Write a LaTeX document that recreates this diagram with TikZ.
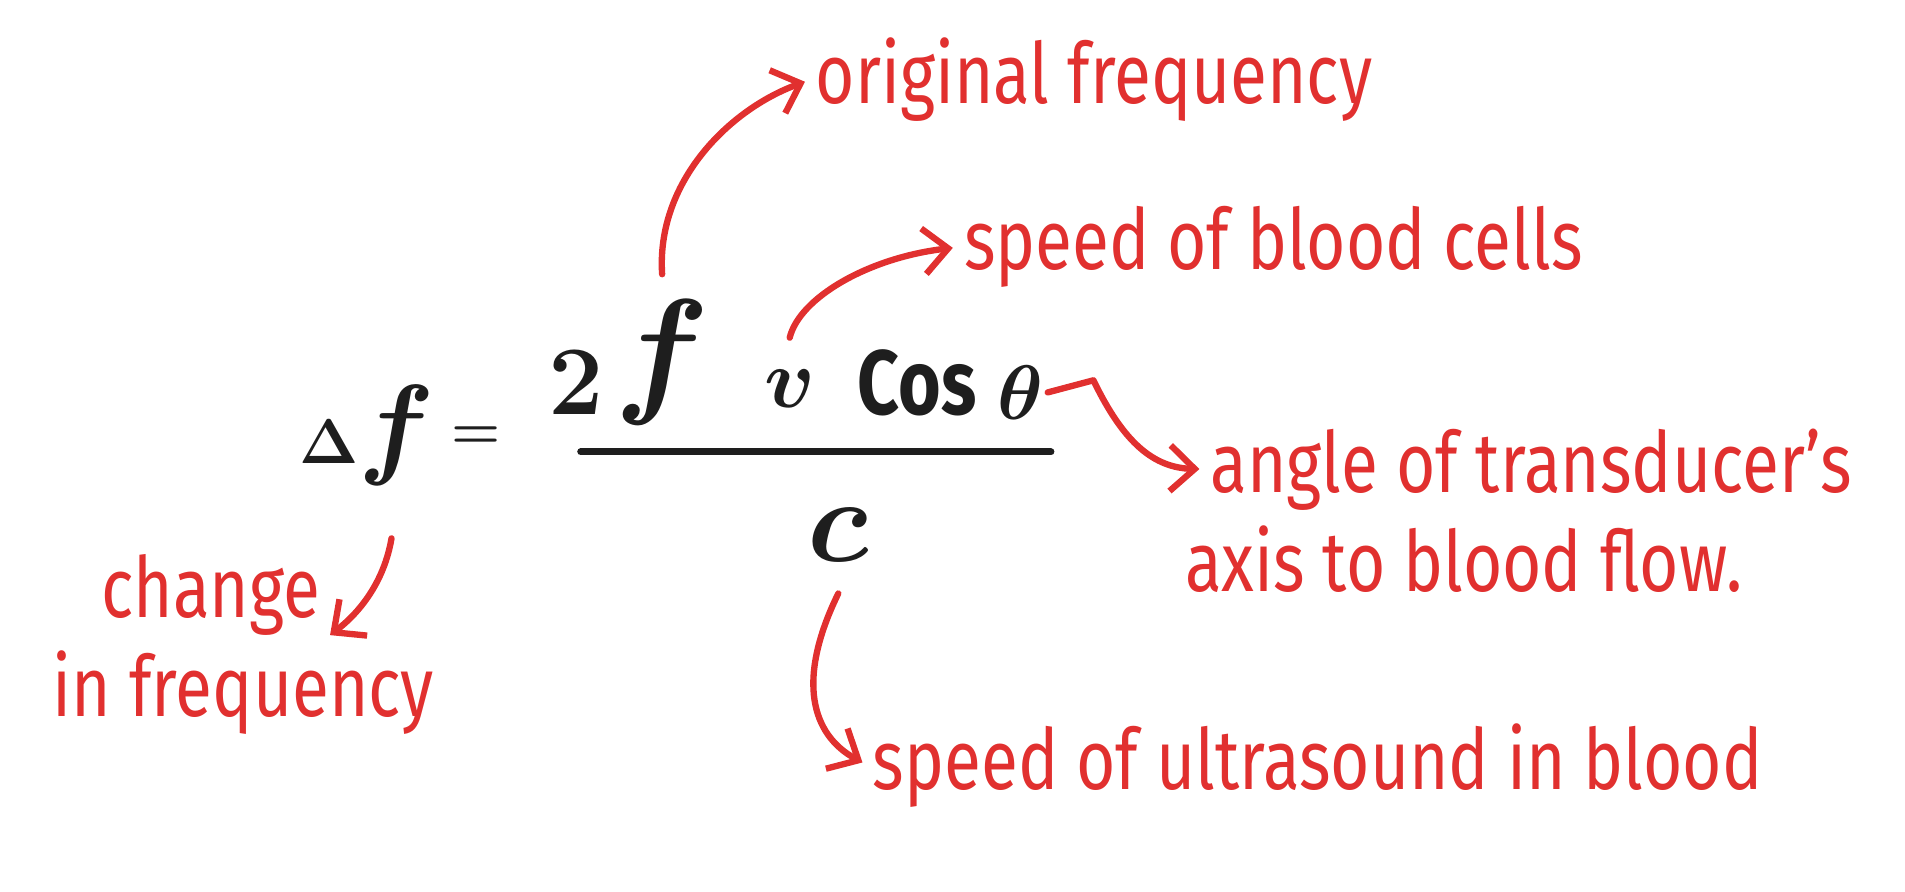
\RequirePackage{fix-cm}
\documentclass[tikz,border=0pt]{standalone}
\usepackage[no-math]{fontspec}
\setmainfont{Fira Sans}[FakeStretch=0.8]
\usetikzlibrary{arrows.meta, positioning}
\definecolor{inkred}{HTML}{E1302F}
\definecolor{inkblack}{HTML}{1E1E1E}
\newcommand{\eqsize}[1]{\fontsize{#1}{#1}\selectfont}

\begin{document}
\begin{tikzpicture}[
    x = 0.1215mm, y = -0.1215mm,
    every node/.style = {inner sep=1pt},
    sym/.style = {text=inkblack, font=\boldmath},
    note/.style = {font=\fontsize{24}{28}\selectfont, text=inkred, anchor=base west},
    arrow/.style = {-{Straight Barb[length=7pt, width=13pt]}, line width=1.8pt,
                    draw=inkred, line cap=round, line join=round, shorten >=2pt}
  ]
    \useasboundingbox (0,0) rectangle (1568,734);

    % Equation
    \node[sym] (delta) at (302,358) {\eqsize{18}$\Delta$\eqsize{32}$f$};
    \node[sym] (equals) at (392,360) {\eqsize{16}$=$};
    \node[sym] (two) at (474,315) {\eqsize{28}$2$};
    \node[sym] (freq) at (545,298) {\eqsize{40}$f$};
    \node[sym] (vel) at (650,320) {\eqsize{24}$v$};
    \node[sym] (cos) at (755,315) {\eqsize{26}\bfseries Cos};
    \node[sym] (theta) at (840,323) {\eqsize{22}$\theta$};
    \coordinate (barL) at (478,372);
    \coordinate (barR) at (865,372);
    \draw[inkblack, line width=2pt, line cap=round] (barL) -- (barR);
    \node[sym] (light) at (690,440) {\eqsize{34}$c$};

    % Labels
    \node[note] (orig) at (668,85) {original frequency};
    \node[note] (blood) at (790,222) {speed of blood cells};
    \node[note] (angle) at (993,405) {angle of transducer's};
    \node[note] (axis) at (972,487) {axis to blood flow.};
    \node[note] (ultra) at (715,650) {speed of ultrasound in blood};
    \node[note] (change) at (80,508) {change};
    \node[note] (infreq) at (40,590) {in frequency};

    % Arrows
    \coordinate (kink) at (900,313);
    \draw[arrow] ([yshift=6pt]freq.north) .. controls (540,150) and (600,90) .. (orig.west);
    \draw[arrow] ([yshift=8pt]vel.north) .. controls (658,245) and (715,212) .. (blood.west);
    \draw[arrow] (theta.east) -- (kink) .. controls (925,365) and (950,385) .. (angle.west);
    \draw[arrow] ([yshift=-8pt]light.south) .. controls (655,560) and (668,605) .. (ultra.west);
    \draw[arrow] ([xshift=7pt, yshift=-14pt]delta.south) .. controls (316,480) and (295,505) .. (change.south east);

  \end{tikzpicture}
\end{document}
